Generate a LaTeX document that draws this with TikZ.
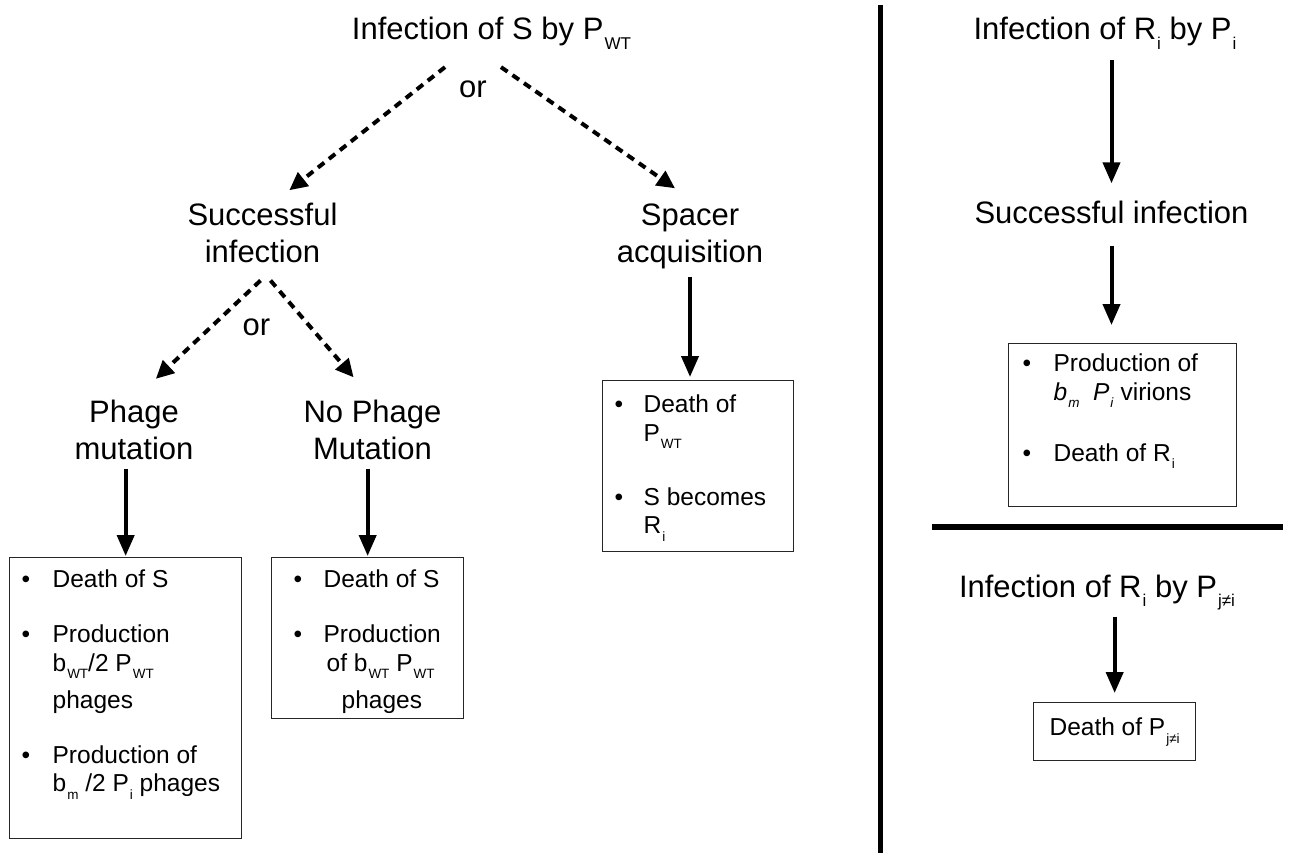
\documentclass[tikz,border=0pt]{standalone}
\usepackage{fontspec}
\setmainfont{Liberation Sans}
\usetikzlibrary{arrows.meta,positioning}
\newcommand{\lsub}[1]{\kern1pt\raisebox{-0.32em}{\scalebox{0.55}{#1}}}

\begin{document}
\begin{tikzpicture}[x=1pt, y=-1pt,
    lbl/.style={font=\fontsize{31}{37}\selectfont, align=center, inner sep=0pt, anchor=base},
    orlbl/.style={font=\fontsize{31}{37}\selectfont, inner sep=14pt, anchor=base},
    outbox/.style={draw=black!85, line width=1.3pt, inner sep=0pt, anchor=north west,
      font=\fontsize{24.5}{28.5}\selectfont},
    dasharr/.style={line width=4pt, dash pattern=on 8pt off 6pt,
      -{Triangle[length=18pt,width=17pt]}},
    solidarr/.style={line width=4pt, -{Triangle[length=21pt,width=17pt]}},
    sepline/.style={line width=5pt}]

    \useasboundingbox (0,0) rectangle (1290,853);

    %% left half: infection of S
    \node[lbl] (ltitle) at (491.5,40) {Infection of S by P\lsub{WT}};
    \node[orlbl] (or1) at (473,98) {or};
    \node[lbl] (lsucc) at (262.5,262) {Successful\\infection};
    \node[lbl] (spacer) at (690,262) {Spacer\\acquisition};
    \node[orlbl] (or2) at (256.5,335) {or};
    \node[lbl] (phm) at (134,459) {Phage\\mutation};
    \node[lbl] (nph) at (372.5,459) {No Phage\\Mutation};

    %% outcome boxes
    \node[outbox] (mutbox) at (9,557) {%
      \begin{tabular}{@{\hspace{12pt}}p{31pt}@{}p{189pt}@{}}
        \rule{0pt}{30pt}\textbullet & Death of S\\[26.5pt]
        \textbullet & Production\\
         & b\lsub{WT}/2 P\lsub{WT}\\[8.5pt]
         & phages\\[26.5pt]
        \textbullet & Production of\\
         & b\lsub{m} /2 P\lsub{i} phages\rule[-47pt]{0pt}{47pt}\\
      \end{tabular}};
    \node[outbox] (nomutbox) at (271,557) {%
      \begin{tabular}{@{\hspace{22pt}}p{30pt}@{}p{140pt}@{}}
        \rule{0pt}{30pt}\textbullet & Death of S\\[26.5pt]
        \textbullet & Production\\
         & \hspace*{3pt}of b\lsub{WT} P\lsub{WT}\\[8.5pt]
         & \hspace*{18pt}phages\rule[-10pt]{0pt}{10pt}\\
      \end{tabular}};
    \node[outbox] (acqbox) at (602,380) {%
      \begin{tabular}{@{\hspace{12pt}}p{29pt}@{}p{150pt}@{}}
        \rule{0pt}{32pt}\textbullet & Death of\\
         & P\lsub{WT}\\[35.5pt]
        \textbullet & S becomes\\
         & R\lsub{i}\rule[-18pt]{0pt}{18pt}\\
      \end{tabular}};

    %% right half: infection of R_i
    \node[lbl] (rtitle) at (1105,40) {Infection of R\lsub{i} by P\lsub{i}};
    \node[lbl] (rsucc) at (1111.5,223) {Successful infection};
    \node[outbox] (resbox) at (1008,343) {%
      \begin{tabular}{@{\hspace{14pt}}p{31pt}@{}p{183pt}@{}}
        \rule{0pt}{28pt}\textbullet & Production of\\
         & \textit{b}\lsub{\textit{m}}\ \ \textit{P}\lsub{\textit{i}} virions\\[32.5pt]
        \textbullet & Death of R\lsub{i}\rule[-45pt]{0pt}{45pt}\\
      \end{tabular}};
    \node[lbl] (rt2) at (1097,597) {Infection of R\lsub{i} by P\lsub{j≠i}};
    \node[outbox, minimum width=162pt, minimum height=58pt] (deathbox) at (1033,702)
      {Death of P\lsub{j≠i}};

    %% dashed branches
    \draw[dasharr, shorten >=19.5pt] (or1.north west) -- (lsucc.69);
    \draw[dasharr, shorten >=26pt] (or1.north east) -- (spacer.79);
    \draw[dasharr, shorten >=30pt] ([xshift=-2pt,yshift=-18pt]lsucc.south) -- (phm.north);
    \draw[dasharr, shorten >=29pt] ([xshift=8pt,yshift=-18pt]lsucc.south) -- (nph.north);

    %% solid arrows
    \draw[solidarr, shorten <=9pt, shorten >=1pt] (mutbox.north |- phm.south) -- (mutbox.north);
    \draw[solidarr, shorten <=9pt, shorten >=1pt] (nomutbox.north |- nph.south) -- (nomutbox.north);
    \draw[solidarr, shorten <=8pt, shorten >=3pt] (spacer.south) -- (spacer.south |- acqbox.north);
    \draw[solidarr, shorten <=10pt, shorten >=17pt] (rsucc.north |- rtitle.south) -- (rsucc.north);
    \draw[solidarr, shorten <=22pt, shorten >=18pt] (rsucc.south) -- (rsucc.south |- resbox.north);
    \draw[solidarr, shorten <=6pt, shorten >=9pt] (deathbox.north |- rt2.south) -- (deathbox.north);

    %% separators
    \draw[sepline] (880,5) -- (880,853);
    \draw[sepline, line width=6pt] (932,527) -- (1283,527);

\end{tikzpicture}
\end{document}
